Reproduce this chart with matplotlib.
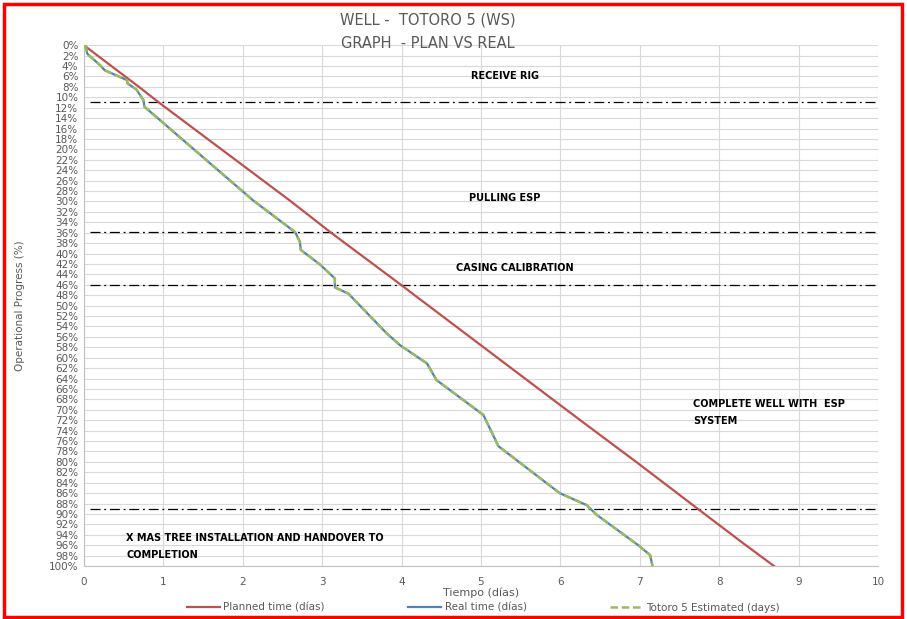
"""Well Totoro 5 - plan vs real progress chart"""

import matplotlib.pyplot as plt
from matplotlib.patches import Rectangle

# planned curve (days, % progress)
planned_days = [0.0, 0.05, 0.7, 0.96, 2.59, 3.12, 4.0, 4.19, 5.58, 6.25,
                6.98, 7.72, 8.30, 8.69]
planned_pct = [0.0, 0.6, 8.1, 11.2, 29.8, 36.1, 46.1, 48.3, 64.3, 72.0,
               80.3, 88.9, 95.6, 100.0]

# real curve (days, % progress); estimated follows the same points
real_days = [0.0, 0.025, 0.04, 0.06, 0.2, 0.26, 0.54, 0.55, 0.66, 0.75, 0.76,
             2.13, 2.66, 2.72, 2.73, 2.98, 3.16, 3.16, 3.33, 3.81, 3.98, 4.32,
             4.44, 5.03, 5.22, 5.99, 6.33, 6.46, 6.98, 7.13, 7.16]
real_pct = [0.0, 0.3, 1.6, 1.9, 3.8, 4.8, 6.7, 7.35, 8.5, 10.6, 11.8,
            29.8, 35.9, 37.8, 39.3, 42.2, 44.8, 46.5, 47.7, 55.3, 57.6, 61.1,
            64.3, 71.0, 77.0, 86.0, 88.3, 90.2, 96.0, 97.9, 100.0]

# activity boundaries (%)
phase_lines = [11.0, 35.9, 46.0, 89.1]

# activity labels (x, y, text)
phase_labels = [
    (4.87, 5.9, "RECEIVE RIG"),
    (4.85, 29.4, "PULLING ESP"),
    (4.68, 42.8, "CASING CALIBRATION"),
    (7.67, 70.6, "COMPLETE WELL WITH  ESP\nSYSTEM"),
    (0.53, 96.2, "X MAS TREE INSTALLATION AND HANDOVER TO\nCOMPLETION"),
]

GRAY = "#595959"

fig = plt.figure(figsize=(9.07, 6.19), dpi=100)
ax = fig.add_axes([0.0926, 0.0856, 0.8754, 0.8414])

ax.plot(planned_days, planned_pct, color="#C0504D", lw=1.6,
        label="Planned time (días)", zorder=3)
ax.plot(real_days, real_pct, color="#4F81BD", lw=1.6,
        label="Real time (días)", zorder=3)
ax.plot(real_days, real_pct, color="#9BBB59", lw=1.8, ls=(0, (3, 1.5)),
        label="Totoro 5 Estimated (days)", zorder=4)

for yv in phase_lines:
    ax.plot([0.07, 9.98], [yv, yv], color="black", lw=0.9,
            ls=(0, (8, 3, 1.5, 3)), zorder=2)

for x, y, txt in phase_labels:
    ax.text(x, y, txt, fontsize=7, fontweight="bold", va="center",
            ha="left", linespacing=1.9, zorder=5)

ax.set_xlim(0, 10)
ax.set_ylim(100, 0)
ax.set_xticks(range(0, 11))
ax.set_yticks(range(0, 101, 2))
ax.set_yticklabels([f"{v}%" for v in range(0, 101, 2)])
ax.tick_params(axis="both", colors=GRAY, labelsize=7.5, length=0, pad=4)
ax.tick_params(axis="x", pad=8)
ax.grid(True, color="#D9D9D9", lw=0.8)
ax.set_axisbelow(True)
for side in ["top", "right"]:
    ax.spines[side].set_visible(False)
for side in ["left", "bottom"]:
    ax.spines[side].set_color("#BFBFBF")

ax.set_xlabel("Tiempo (días)", color=GRAY, fontsize=8, labelpad=0)
ax.set_ylabel("Operational Progress (%)", color=GRAY, fontsize=7.5,
              labelpad=17)

fig.text(0.472, 0.967, "WELL -  TOTORO 5 (WS)", ha="center", va="center",
         fontsize=10.5, color=GRAY)
fig.text(0.472, 0.93, "GRAPH  - PLAN VS REAL", ha="center", va="center",
         fontsize=10.5, color=GRAY)

fig.legend(loc="lower center", bbox_to_anchor=(0.533, -0.005), ncol=3,
           frameon=False, fontsize=7.5, labelcolor=GRAY, columnspacing=8,
           handlelength=3.2, handletextpad=0.3)

fig.patches.append(Rectangle((0.004, 0.003), 0.99, 0.99, transform=fig.transFigure,
                             fill=False, edgecolor="red", lw=2.5))

fig.savefig("out.png", dpi=100)
